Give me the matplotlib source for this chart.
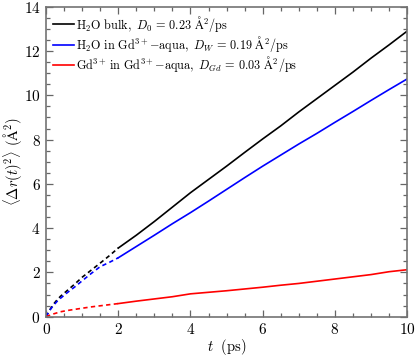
import matplotlib
matplotlib.use("Agg")
import matplotlib.pyplot as plt
from matplotlib.ticker import MultipleLocator

plt.rcParams['mathtext.fontset'] = 'cm'
plt.rcParams['font.family'] = ['cmr10', 'DejaVu Serif']
plt.rcParams['axes.formatter.use_mathtext'] = True

# Short-time (dashed) portion
t_short = [0.0, 0.1, 0.2, 0.3, 0.4, 0.6, 0.8, 1.0, 1.25, 1.5, 1.75, 2.0]
bulk_short = [0.0, 0.30, 0.55, 0.75, 0.92, 1.20, 1.48, 1.78, 2.10, 2.42, 2.75, 3.10]
water_short = [0.0, 0.28, 0.50, 0.68, 0.83, 1.10, 1.35, 1.62, 1.95, 2.26, 2.45, 2.66]
gd_short = [0.0, 0.06, 0.12, 0.17, 0.22, 0.28, 0.33, 0.38, 0.44, 0.49, 0.54, 0.59]

# Long-time (solid) portion
t_long = [2.0, 2.5, 3.0, 3.5, 4.0, 4.5, 5.0, 5.5, 6.0, 6.5, 7.0, 7.5, 8.0, 8.5, 9.0, 9.5, 10.0]
bulk_long = [3.10, 3.68, 4.30, 4.95, 5.60, 6.20, 6.80, 7.42, 8.03, 8.62, 9.25, 9.85,
             10.45, 11.05, 11.68, 12.28, 12.90]
water_long = [2.66, 3.17, 3.68, 4.20, 4.70, 5.22, 5.75, 6.28, 6.80, 7.30, 7.80, 8.28,
              8.78, 9.27, 9.77, 10.26, 10.74]
gd_long = [0.59, 0.70, 0.80, 0.90, 1.03, 1.10, 1.17, 1.25, 1.33, 1.42, 1.50, 1.60,
           1.70, 1.80, 1.90, 2.03, 2.12]

labels = [
    r"$\mathrm{H_2O\ bulk},\ D_0\,=\,0.23\ \mathrm{\AA^2/ps}$",
    r"$\mathrm{H_2O\ in\ Gd^{3+}{-}aqua},\ D_W\,=\,0.19\ \mathrm{\AA^2/ps}$",
    r"$\mathrm{Gd^{3+}\,in\ Gd^{3+}{-}aqua},\ D_{Gd}\,=\,0.03\ \mathrm{\AA^2/ps}$",
]
colors = ['black', '#0000ff', '#ff0000']

fig = plt.figure(figsize=(4.15, 3.59), dpi=100)
ax = fig.add_axes([0.111, 0.118, 0.870, 0.863])

shorts = [bulk_short, water_short, gd_short]
longs = [bulk_long, water_long, gd_long]
for s, l, c, lab in zip(shorts, longs, colors, labels):
    ax.plot(t_short, s, color=c, lw=1.2, dashes=(2.6, 2.0))
    ax.plot(t_long, l, color=c, lw=1.2, label=lab)

ax.set_xlim(0, 10)
ax.set_ylim(0, 14)
ax.xaxis.set_major_locator(MultipleLocator(2))
ax.xaxis.set_minor_locator(MultipleLocator(0.5))
ax.yaxis.set_major_locator(MultipleLocator(2))
ax.yaxis.set_minor_locator(MultipleLocator(0.5))
ax.tick_params(which='both', direction='in', top=True, right=True,
               color='0.4', labelsize=11, width=0.9)
ax.tick_params(which='major', length=5, pad=4)
ax.tick_params(which='minor', length=2.8)
for sp in ax.spines.values():
    sp.set_color('0.45')
    sp.set_linewidth(1.2)

ax.set_xlabel(r"$t\ \ \mathrm{(ps)}$", fontsize=10.5, labelpad=0)
ax.set_ylabel(r"$\langle\Delta r(t)^2\rangle\ (\mathrm{\AA}^2)$", fontsize=10.5, labelpad=0)

leg = ax.legend(loc='upper left', frameon=False, fontsize=8.8, handlelength=1.75,
                handletextpad=0.15, labelspacing=0.02, borderaxespad=0.25,
                borderpad=0.3)

fig.savefig('out.png', dpi=100)
